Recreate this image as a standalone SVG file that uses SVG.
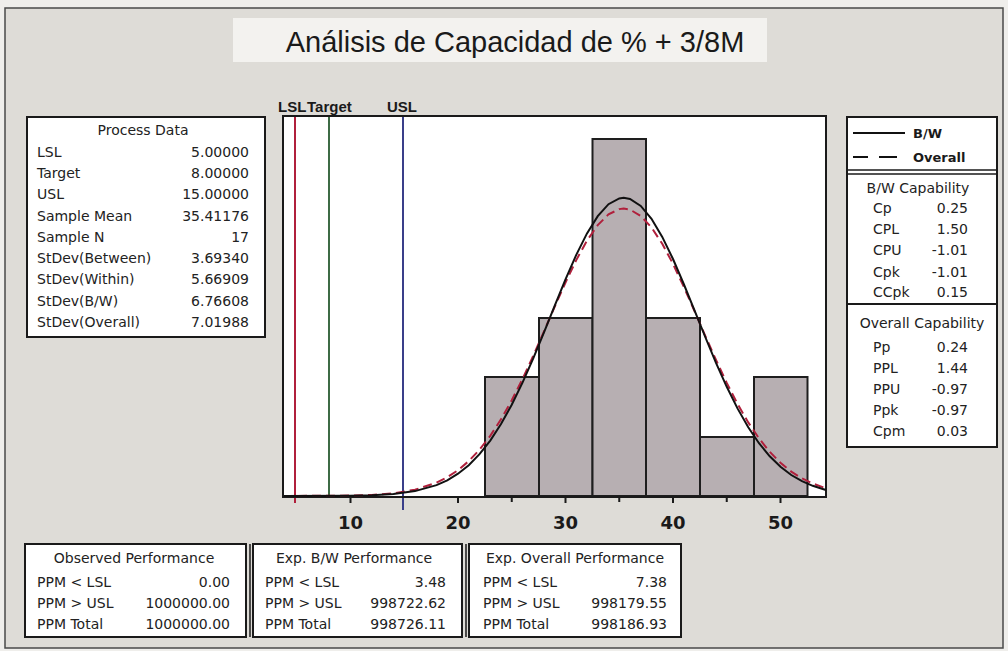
<svg xmlns="http://www.w3.org/2000/svg" width="1008" height="651" viewBox="0 0 1008 651">
<defs>
<style>
.t{font-family:"DejaVu Sans","Liberation Sans",sans-serif;font-size:14px;fill:#222}
.r{text-anchor:end}
.c{text-anchor:middle}
.box{fill:#fff;stroke:#1a1a1a;stroke-width:2}
.bar{fill:#b7afb2;stroke:#1e1e1e;stroke-width:2}
.ax{font-family:"DejaVu Sans","Liberation Sans",sans-serif;font-size:18px;font-weight:bold;fill:#1a1a1a;text-anchor:middle}
.lbl{font-family:"Liberation Sans",Arial,sans-serif;font-size:15px;font-weight:bold;fill:#1a1a1a}
.lg{font-family:"DejaVu Sans","Liberation Sans",sans-serif;font-size:13px;font-weight:bold;fill:#1a1a1a}
</style>
</defs>
<rect x="0" y="0" width="1008" height="651" fill="#efeeeb"/>
<rect x="5" y="8" width="998" height="640" fill="#dedcd7" stroke="#4a4a4a" stroke-width="1.5"/>

<g id="title">
<rect x="233" y="18" width="534" height="44" fill="#f3f2ef"/>
<text x="515" y="52" font-family="Liberation Sans, Arial, sans-serif" font-size="29" fill="#1a1a1a" text-anchor="middle">Análisis de Capacidad de % + 3/8M</text>
</g>

<g id="process-data">
<rect class="box" x="27" y="117" width="238" height="220"/>
<text class="t c" x="143" y="135">Process Data</text>
<text class="t" x="37" y="157">LSL</text><text class="t r" x="249" y="157">5.00000</text>
<text class="t" x="37" y="178">Target</text><text class="t r" x="249" y="178">8.00000</text>
<text class="t" x="37" y="199">USL</text><text class="t r" x="249" y="199">15.00000</text>
<text class="t" x="37" y="221">Sample Mean</text><text class="t r" x="249" y="221">35.41176</text>
<text class="t" x="37" y="242">Sample N</text><text class="t r" x="249" y="242">17</text>
<text class="t" x="37" y="263">StDev(Between)</text><text class="t r" x="249" y="263">3.69340</text>
<text class="t" x="37" y="284">StDev(Within)</text><text class="t r" x="249" y="284">5.66909</text>
<text class="t" x="37" y="306">StDev(B/W)</text><text class="t r" x="249" y="306">6.76608</text>
<text class="t" x="37" y="327">StDev(Overall)</text><text class="t r" x="249" y="327">7.01988</text>
</g>

<g id="chart">
<rect x="283" y="116" width="543" height="381" fill="#fff" stroke="#1a1a1a" stroke-width="2"/>
<rect class="bar" x="485" y="377" width="54" height="119"/>
<rect class="bar" x="539" y="318" width="53.5" height="178"/>
<rect class="bar" x="592.5" y="139" width="53.5" height="357"/>
<rect class="bar" x="646" y="318" width="54" height="178"/>
<rect class="bar" x="700" y="437" width="54" height="59"/>
<rect class="bar" x="754" y="377" width="53.5" height="119"/>
<line x1="295" y1="117" x2="295" y2="503" stroke="#b0203c" stroke-width="2"/>
<line x1="329" y1="117" x2="329" y2="497" stroke="#3d6b45" stroke-width="2"/>
<line x1="403" y1="117" x2="403" y2="510" stroke="#3a3f8a" stroke-width="2"/>
<line x1="283" y1="497" x2="826" y2="497" stroke="#1a1a1a" stroke-width="2"/>
<path d="M350.5 497v6M458 497v6M565.5 497v6M673 497v6M780.5 497v6M511.75 497v5M619.25 497v5M726.75 497v5" stroke="#1a1a1a" stroke-width="2"/>
<text class="ax" x="350.5" y="529">10</text>
<text class="ax" x="458" y="529">20</text>
<text class="ax" x="565.5" y="529">30</text>
<text class="ax" x="673" y="529">40</text>
<text class="ax" x="780.5" y="529">50</text>
<text class="lbl" x="278" y="112">LSL</text>
<text class="lbl" x="307" y="112">Target</text>
<text class="lbl" x="387" y="112">USL</text>
</g>

<g id="connectors">
<polyline fill="none" stroke="#b0203c" stroke-width="2" stroke-dasharray="9 5" points="284,496 350.5,495.6 372,494.9 393.5,493.3 415,489.7 436.5,482.7 447.25,477.3 458,470.2 468.75,461.1 479.5,449.7 490.25,435.8 501,419.3 511.75,400.3 522.5,379 533.25,355.8 544,331.4 554.75,306.6 565.5,282.5 576.25,260.1 587,240.6 597.75,225.1 608.5,214.4 619.25,209.1 623.7,208.6 630,209.6 640.75,215.9 651.5,227.5 662.25,243.8 673,263.9 683.75,286.7 694.5,311 705.25,335.8 716,360 726.75,382.9 737.5,403.9 748.25,422.4 759,438.4 769.75,451.8 780.5,462.8 791.25,471.6 802,478.4 812.75,483.5 823.5,487.4 826,488.3"/>
<polyline fill="none" stroke="#111" stroke-width="2" points="284,496 350.5,495.7 372,495.2 393.5,494 415,491.1 436.5,485.1 447.25,480.3 458,473.7 468.75,465.2 479.5,454.2 490.25,440.6 501,424.1 511.75,404.7 522.5,382.7 533.25,358.3 544,332.3 554.75,305.7 565.5,279.4 576.25,254.9 587,233.4 597.75,216.2 608.5,204.2 619.25,198.4 623.7,197.8 630,198.9 640.75,205.9 651.5,218.8 662.25,236.9 673,259 683.75,284 694.5,310.4 705.25,337 716,362.8 726.75,386.8 737.5,408.4 748.25,427.2 759,443.2 769.75,456.3 780.5,466.8 791.25,475 802,481.2 812.75,485.8 823.5,489.2 826,490"/>
</g>

<g id="capability">
<rect class="box" x="847" y="117" width="150" height="330"/>
<line x1="853" y1="133" x2="905" y2="133" stroke="#111" stroke-width="2"/>
<text class="lg" x="913" y="138">B/W</text>
<line x1="853" y1="157" x2="868" y2="157" stroke="#111" stroke-width="2"/>
<line x1="879" y1="157" x2="897" y2="157" stroke="#111" stroke-width="2"/>
<text class="lg" x="913" y="162">Overall</text>
<line x1="847" y1="170" x2="997" y2="170" stroke="#1a1a1a" stroke-width="1.5"/>
<line x1="847" y1="174" x2="997" y2="174" stroke="#1a1a1a" stroke-width="1.5"/>
<text class="t c" x="918" y="193" font-size="13">B/W Capability</text>
<text class="t" x="873" y="213">Cp</text><text class="t r" x="968" y="213">0.25</text>
<text class="t" x="873" y="234">CPL</text><text class="t r" x="968" y="234">1.50</text>
<text class="t" x="873" y="255">CPU</text><text class="t r" x="968" y="255">-1.01</text>
<text class="t" x="873" y="277">Cpk</text><text class="t r" x="968" y="277">-1.01</text>
<text class="t" x="873" y="297">CCpk</text><text class="t r" x="968" y="297">0.15</text>
<line x1="847" y1="304" x2="997" y2="304" stroke="#1a1a1a" stroke-width="2"/>
<text class="t c" x="922" y="328" font-size="13">Overall Capability</text>
<text class="t" x="873" y="352">Pp</text><text class="t r" x="968" y="352">0.24</text>
<text class="t" x="873" y="373">PPL</text><text class="t r" x="968" y="373">1.44</text>
<text class="t" x="873" y="394">PPU</text><text class="t r" x="968" y="394">-0.97</text>
<text class="t" x="873" y="415">Ppk</text><text class="t r" x="968" y="415">-0.97</text>
<text class="t" x="873" y="436">Cpm</text><text class="t r" x="968" y="436">0.03</text>
</g>

<g id="observed-performance">
<rect class="box" x="25" y="544" width="221" height="93"/>
<text class="t c" x="134" y="563">Observed Performance</text>
<text class="t" x="37" y="587">PPM &lt; LSL</text><text class="t r" x="230" y="587">0.00</text>
<text class="t" x="37" y="608">PPM &gt; USL</text><text class="t r" x="230" y="608">1000000.00</text>
<text class="t" x="37" y="629">PPM Total</text><text class="t r" x="230" y="629">1000000.00</text>
</g>

<g id="exp-bw-performance">
<rect class="box" x="253" y="544" width="209" height="93"/>
<line x1="250" y1="544" x2="250" y2="637" stroke="#1a1a1a" stroke-width="1.5"/>
<text class="t c" x="354" y="563">Exp. B/W Performance</text>
<text class="t" x="265" y="587">PPM &lt; LSL</text><text class="t r" x="446" y="587">3.48</text>
<text class="t" x="265" y="608">PPM &gt; USL</text><text class="t r" x="446" y="608">998722.62</text>
<text class="t" x="265" y="629">PPM Total</text><text class="t r" x="446" y="629">998726.11</text>
</g>

<g id="exp-overall-performance">
<rect class="box" x="469" y="544" width="212" height="93"/>
<line x1="466" y1="544" x2="466" y2="637" stroke="#1a1a1a" stroke-width="1.5"/>
<text class="t c" x="575" y="563">Exp. Overall Performance</text>
<text class="t" x="483" y="587">PPM &lt; LSL</text><text class="t r" x="667" y="587">7.38</text>
<text class="t" x="483" y="608">PPM &gt; USL</text><text class="t r" x="667" y="608">998179.55</text>
<text class="t" x="483" y="629">PPM Total</text><text class="t r" x="667" y="629">998186.93</text>
</g>
</svg>
